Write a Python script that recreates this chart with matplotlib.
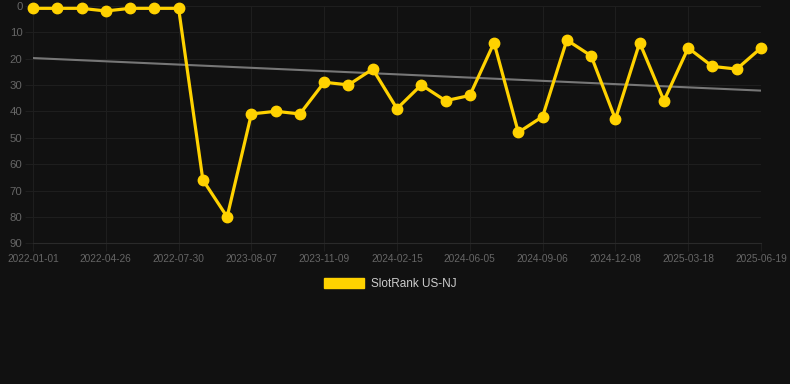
import numpy as np
import matplotlib
matplotlib.use("Agg")
import matplotlib.pyplot as plt
from matplotlib.patches import Patch

# data
dates = ["2022-01-01", "2022-02-08", "2022-03-18", "2022-04-26", "2022-05-30",
         "2022-06-25", "2022-07-30", "2023-03-02", "2023-06-01", "2023-08-07",
         "2023-09-10", "2023-10-08", "2023-11-09", "2023-12-10", "2024-01-12",
         "2024-02-15", "2024-03-20", "2024-04-28", "2024-06-05", "2024-07-02",
         "2024-08-03", "2024-09-06", "2024-10-05", "2024-11-06", "2024-12-08",
         "2025-01-09", "2025-02-12", "2025-03-18", "2025-04-20", "2025-05-20",
         "2025-06-19"]
ranks = [1, 1, 1, 2, 1, 1, 1, 66, 80, 41, 40, 41, 29, 30, 24, 39, 30, 36, 34,
         14, 48, 42, 13, 19, 43, 14, 36, 16, 23, 24, 16]
series_name = "SlotRank US-NJ"

bg = "#111111"
gold = "#FFD200"
gridc = "#1e1e1e"

plt.rcParams["font.family"] = ["Liberation Sans", "DejaVu Sans"]

fig = plt.figure(figsize=(7.9, 3.84), dpi=100, facecolor=bg)
ax = fig.add_axes([33 / 790, 1 - 243.3 / 384, (761 - 33) / 790, (243.3 - 5.7) / 384])
ax.set_facecolor(bg)

x = np.arange(len(ranks))

# trend line (least squares fit)
k, b = np.polyfit(x, ranks, 1)
ax.plot(x, k * x + b, color="#777777", lw=1.5, zorder=2)

ax.plot(x, ranks, color=gold, lw=2.3, marker="o", ms=7.5, clip_on=False, zorder=3)

ax.set_xlim(0, len(ranks) - 1)
ax.set_ylim(90, 0)
ax.set_yticks(range(0, 91, 10))
ax.set_xticks(x[::3])
ax.set_xticklabels(dates[::3], fontsize=7.3)

ax.grid(True, color=gridc, lw=0.8)
ax.set_axisbelow(True)
for s in ["top", "right", "left"]:
    ax.spines[s].set_visible(False)
ax.spines["bottom"].set_color("#2a2a2a")
ax.tick_params(axis="both", length=6, width=0.8, color=gridc, labelcolor="#666666")
ax.tick_params(axis="y", labelsize=8.2, pad=1.5)
ax.tick_params(axis="x", pad=2)

fig.legend(handles=[Patch(facecolor=gold, edgecolor=gold)], labels=[series_name],
           loc="center", bbox_to_anchor=(390 / 790, 1 - 284 / 384), frameon=False,
           handlelength=3.4, handleheight=1.0, handletextpad=0.55,
           fontsize=8.5, labelcolor="#cccccc")

fig.savefig("out.png", dpi=100, facecolor=bg)
